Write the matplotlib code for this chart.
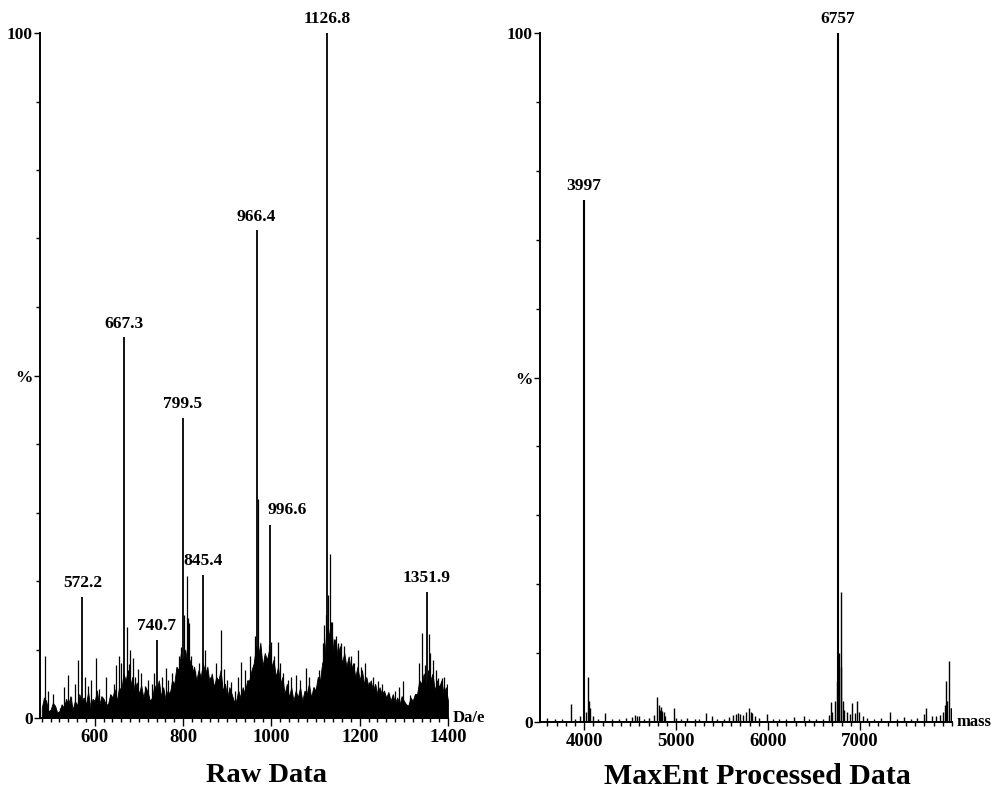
import matplotlib.pyplot as plt
from matplotlib.ticker import MultipleLocator, FixedLocator

plt.rcParams['font.family'] = ['Liberation Serif', 'DejaVu Serif']
plt.rcParams['font.weight'] = 'bold'

# ---- Raw data (m/z vs % intensity) ----
raw_peak_mz = [572.2, 667.3, 740.7, 799.5, 845.4, 966.4, 996.6, 1126.8, 1351.9]
raw_peak_int = [17.7, 55.6, 11.4, 43.8, 20.9, 71.2, 28.2, 100.0, 18.4]
raw_peak_labels = ['572.2', '667.3', '740.7', '799.5', '845.4', '966.4', '996.6', '1126.8', '1351.9']

# smaller, unlabelled spikes
raw_spike_mz = [488, 511, 522, 540, 546, 562, 584, 603, 610, 616, 637, 648,
                672, 677, 687, 698, 714, 729, 746, 761, 771, 782, 796, 808,
                811, 814, 820, 828, 849, 856, 867, 885, 893, 908, 918, 932,
                945, 956, 970, 979, 994, 999, 1015, 1026, 1037, 1056, 1079,
                1096, 1101, 1117, 1119, 1133, 1142, 1152, 1165, 1173, 1196,
                1211, 1222, 1241, 1256, 1267, 1299, 1315, 1329, 1341, 1348,
                1356, 1360, 1378, 1386, 1397,
                495, 505, 530, 555, 578, 592, 625, 643, 655, 660, 680, 692,
                705, 720, 735, 752, 766, 776, 790, 803, 817, 835, 842, 862,
                875, 900, 925, 940, 951, 962, 975, 986, 1005, 1020, 1045,
                1065, 1085, 1108, 1123, 1129, 1137, 1147, 1158, 1180, 1188,
                1203, 1230, 1250, 1280, 1290, 1335, 1365, 1372, 1392]
raw_spike_int = [9.0, 1.6, 1.5, 6.3, 3.1, 8.4, 4.6, 8.7, 4.2, 3.0, 3.3, 7.7,
                 13.3, 7.9, 8.7, 7.1, 4.6, 5.0, 5.0, 7.3, 4.0, 5.0, 10.4, 20.7,
                 14.6, 13.9, 7.7, 6.8, 9.9, 4.6, 5.1, 12.8, 7.1, 5.3, 4.0, 8.2,
                 5.0, 6.9, 32.0, 8.2, 10.6, 11.1, 11.1, 6.6, 5.6, 6.3, 7.3,
                 4.5, 4.4, 10.9, 13.6, 24.0, 11.5, 10.9, 10.5, 8.3, 10.0,
                 8.1, 5.3, 5.4, 3.7, 3.5, 5.4, 3.3, 2.8, 12.4, 7.7,
                 12.3, 9.5, 5.9, 5.9, 5.0,
                 4.0, 3.5, 4.5, 5.0, 6.0, 5.5, 6.0, 5.0, 9.0, 8.0, 10.0, 6.0,
                 6.5, 5.5, 6.5, 6.0, 5.5, 6.5, 9.0, 15.0, 9.0, 8.0, 7.0, 6.0,
                 8.0, 5.5, 6.0, 7.0, 9.0, 12.0, 10.0, 9.0, 9.0, 8.0, 6.0,
                 5.5, 6.0, 7.0, 15.0, 18.0, 14.0, 12.0, 11.0, 9.0, 8.0,
                 7.5, 6.0, 5.0, 4.0, 4.5, 8.0, 8.5, 7.0, 6.0]

# dense floor of the spectrum, read every 5 Da/e
raw_floor_mz = list(range(480, 1401, 5))
raw_floor_int = [
    1.5, 3.0, 2.5, 1.0, 1.2, 2.2, 1.8, 0.8, 1.0, 2.0, 1.5, 2.8, 2.0, 3.2, 1.2, 2.5, 1.8, 3.5, 2.5, 3.0,
    2.0, 3.8, 1.5, 2.8, 2.5, 4.0, 1.8, 3.2, 2.8, 2.0, 2.0, 3.5, 3.0, 4.2, 2.5, 4.5, 4.0, 6.5, 5.5, 7.0,
    4.5, 6.0, 4.0, 5.2, 3.5, 4.8, 3.0, 4.5, 3.8, 2.5, 3.0, 4.8, 4.0, 5.5, 3.2, 4.5, 2.8, 4.0, 3.5, 5.5,
    5.0, 7.5, 7.0, 9.5, 8.5, 10.0, 7.5, 8.5, 6.5, 7.5, 5.5, 7.0, 6.0, 8.0, 6.5, 7.5, 5.0, 6.5, 4.5, 6.0,
    5.5, 7.0, 4.0, 5.0, 3.0, 4.5, 3.5, 2.5, 2.5, 4.0, 3.0, 4.5, 3.5, 5.5, 5.5, 7.0, 8.0, 10.5, 9.0, 11.0,
    7.5, 9.5, 8.5, 10.0, 7.5, 8.5, 6.0, 7.5, 5.0, 6.0, 3.5, 5.0, 3.0, 4.5, 2.5, 4.0, 3.0, 4.5, 2.5, 4.0,
    3.5, 5.0, 3.0, 4.5, 4.0, 6.0, 5.5, 8.0, 9.0, 13.0, 12.0, 14.0, 10.0, 11.5, 9.0, 10.5, 8.0, 9.5, 7.5, 9.0,
    7.0, 8.0, 6.0, 7.5, 5.5, 7.0, 5.0, 6.0, 4.5, 5.5, 4.0, 5.0, 3.5, 4.5, 3.5, 4.0, 3.0, 3.8, 2.5, 3.5,
    2.2, 3.0, 2.0, 3.2, 2.5, 2.0, 1.8, 3.0, 2.5, 3.5, 3.5, 5.5, 5.0, 6.5, 4.5, 7.0, 5.5, 6.5, 4.0, 5.5,
    4.5, 5.5, 3.5, 4.5, 2.5]

# ---- MaxEnt processed data (mass vs % intensity) ----
ent_peak_mz = [3997, 6757]
ent_peak_int = [75.8, 100.0]
ent_peak_labels = ['3997', '6757']

ent_spike_mz = [3600, 3680, 3760, 3859, 3900, 3950, 4020, 4040, 4052, 4059,
                4100, 4150, 4222, 4300, 4380, 4450, 4520, 4548, 4580, 4600,
                4650, 4700, 4760, 4794, 4810, 4825, 4837, 4850, 4865, 4880,
                4975, 5000, 5050, 5120, 5200, 5250, 5330, 5385, 5450, 5520,
                5580, 5620, 5650, 5674, 5700, 5728, 5760, 5794, 5810, 5830,
                5860, 5900, 5983, 6050, 6120, 6200, 6280, 6388, 6450, 6520,
                6600, 6663, 6682, 6700, 6730, 6745, 6770, 6790, 6798, 6810,
                6830, 6860, 6890, 6913, 6940, 6968, 6990, 7030, 7080, 7150,
                7230, 7323, 7400, 7480, 7550, 7620, 7700, 7722, 7780, 7830,
                7870, 7900, 7920, 7932, 7950, 7968, 7985, 7994]
ent_spike_int = [0.6, 0.4, 0.5, 2.6, 0.5, 0.8, 1.5, 6.5, 3.0, 2.0,
                 0.8, 0.5, 1.3, 0.4, 0.5, 0.6, 0.7, 1.0, 0.8, 0.8,
                 0.5, 0.6, 1.0, 3.6, 2.5, 1.8, 2.2, 1.6, 1.5, 0.8,
                 2.0, 0.6, 0.5, 0.6, 0.4, 0.5, 1.3, 0.8, 0.4, 0.5,
                 0.7, 1.0, 1.1, 1.3, 1.2, 1.0, 1.4, 2.0, 1.5, 1.3,
                 0.8, 0.6, 1.2, 0.5, 0.4, 0.5, 0.7, 0.9, 0.5, 0.4,
                 0.5, 1.0, 2.9, 1.5, 3.0, 6.0, 10.0, 8.0, 18.9, 3.0,
                 1.8, 1.5, 1.2, 2.7, 1.3, 3.1, 1.5, 0.8, 0.6, 0.5,
                 0.6, 1.5, 0.5, 0.7, 0.5, 0.6, 1.2, 2.0, 0.8, 0.9,
                 1.0, 1.5, 2.5, 5.9, 3.0, 8.8, 2.0, 2.0]

raw_ticks = [600, 800, 1000, 1200, 1400]
ent_ticks = [4000, 5000, 6000, 7000]


def style_axes(ax, xmin, xmax, ticks, minor, unit):
    ax.set_xlim(xmin, xmax)
    ax.set_ylim(0, 100)
    ax.spines['top'].set_visible(False)
    ax.spines['right'].set_visible(False)
    ax.spines['left'].set_linewidth(1.4)
    ax.spines['bottom'].set_linewidth(1.4)
    ax.xaxis.set_major_locator(FixedLocator(ticks))
    ax.xaxis.set_minor_locator(MultipleLocator(minor))
    ax.yaxis.set_major_locator(FixedLocator([0, 50, 100]))
    ax.yaxis.set_minor_locator(MultipleLocator(10))
    ax.set_yticklabels(['0', '%', '100'])
    ax.tick_params(axis='x', which='major', length=6, width=1, pad=2, labelsize=13.5)
    ax.tick_params(axis='x', which='minor', length=3, width=1)
    ax.tick_params(axis='y', which='major', length=4, width=1, pad=1, labelsize=12.5)
    ax.tick_params(axis='y', which='minor', length=3, width=1)
    ax.text(1.012, 0, unit, transform=ax.transAxes, ha='left', va='center',
            fontsize=12, fontweight='bold')


def label_peaks(ax, mz, inten, labels, left_aligned=()):
    for m, i, t in zip(mz, inten, labels):
        if t in left_aligned:
            ax.annotate(t, (m, i), xytext=(-2, 5), textcoords='offset points',
                        ha='left', va='bottom', fontsize=12.5, fontweight='bold')
        else:
            ax.annotate(t, (m, i), xytext=(0, 4), textcoords='offset points',
                        ha='center', va='bottom', fontsize=12.5, fontweight='bold')


fig = plt.figure(figsize=(9.98, 7.92), dpi=100)

# Raw data panel
ax1 = fig.add_axes([40 / 998, 1 - 718 / 792, 408 / 998, 685 / 792])
ax1.fill_between(raw_floor_mz, 0, raw_floor_int, color='black', linewidth=0.6)
ax1.vlines(raw_spike_mz, 0, raw_spike_int, color='black', linewidth=0.9)
ax1.vlines(raw_peak_mz, 0, raw_peak_int, color='black', linewidth=1.3)
style_axes(ax1, 476, 1400, raw_ticks, 20, 'Da/e')
label_peaks(ax1, raw_peak_mz, raw_peak_int, raw_peak_labels, left_aligned=('996.6',))

# MaxEnt panel
ax2 = fig.add_axes([540 / 998, 1 - 722 / 792, 412 / 998, 689 / 792])
ax2.vlines(ent_spike_mz, 0, ent_spike_int, color='black', linewidth=1.0)
ax2.vlines(ent_peak_mz, 0, ent_peak_int, color='black', linewidth=1.5)
style_axes(ax2, 3520, 8000, ent_ticks, 100, 'mass')
label_peaks(ax2, ent_peak_mz, ent_peak_int, ent_peak_labels)

fig.text(266 / 998, 1 - 776 / 792, 'Raw Data', ha='center', va='center',
         fontsize=20.5, fontweight='bold')
fig.text(757 / 998, 1 - 776 / 792, 'MaxEnt Processed Data', ha='center', va='center',
         fontsize=21.5, fontweight='bold')

fig.savefig('out.png', dpi=100)
